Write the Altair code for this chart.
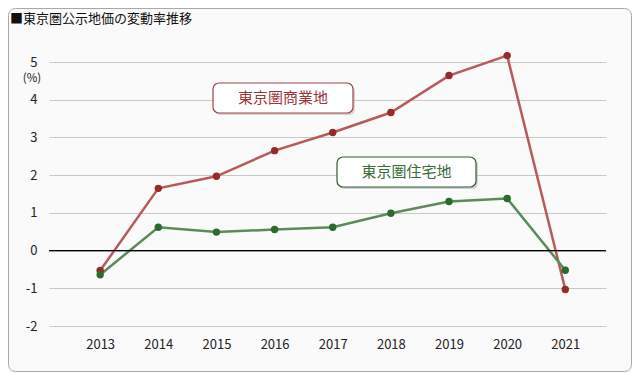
import altair as alt
import pandas as pd

years = [2013, 2014, 2015, 2016, 2017, 2018, 2019, 2020, 2021]
commercial = [-0.53, 1.65, 1.97, 2.65, 3.13, 3.66, 4.64, 5.17, -1.03]
residential = [-0.64, 0.62, 0.49, 0.56, 0.62, 0.99, 1.30, 1.38, -0.52]
series_names = ["東京圏商業地", "東京圏住宅地"]
y_ticks = [-2, -1, 0, 1, 2, 3, 4, 5]
title_text = "■東京圏公示地価の変動率推移"
unit_text = "(%)"

FONT = "Noto Sans CJK JP"
W, H = 557, 264
PAD = {"left": 41, "top": 54, "right": 26, "bottom": 46}

df = pd.DataFrame({
    "year": years * 2,
    "value": commercial + residential,
    "series": [series_names[0]] * len(years) + [series_names[1]] * len(years),
})

xscale = alt.Scale(domain=[2012.12, 2021.70], nice=False, zero=False)
yscale = alt.Scale(domain=[-2, 5], nice=False, zero=False)

base = alt.Chart(df)

x_axis = alt.Axis(values=years, labelExpr="datum.value", title=None, grid=False,
                  domain=False, ticks=False, labelPadding=12, labelOverlap=False,
                  labelFontSize=13, labelColor="#222", labelFont=FONT)
y_axis = alt.Axis(values=y_ticks, tickCount=8, labelExpr="datum.value", title=None, grid=True,
                  gridColor="#c8c8c8", domain=False, ticks=False, labelPadding=12,
                  labelOverlap=False, labelFontSize=13, labelColor="#222", labelFont=FONT)

def xe():
    return alt.X("year:Q", scale=xscale, axis=x_axis)

def ye():
    return alt.Y("value:Q", scale=yscale, axis=y_axis)

line_colors = ["#b85a5a", "#5a8c5a"]
point_colors = ["#952a2a", "#2d6a2d"]

one = pd.DataFrame({"k": [0]})

frame = alt.Chart(one).mark_rect(fillOpacity=0, stroke="#a8a8a8", strokeWidth=1, cornerRadius=7).encode(
    x=alt.value(-40.5), x2=alt.value(582.5), y=alt.value(-53.5), y2=alt.value(309.5))

zero = alt.Chart(pd.DataFrame({"v": [0]})).mark_rule(color="#000", strokeWidth=1.2).encode(
    y=alt.Y("v:Q", scale=yscale, axis=y_axis), x=alt.value(0), x2=alt.value(W))

series_layers = []
for i, name in enumerate(series_names):
    sub = base.transform_filter(alt.datum.series == name)
    series_layers.append(sub.mark_line(strokeWidth=2.5, color=line_colors[i]).encode(x=xe(), y=ye()))
for i, name in enumerate(series_names):
    sub = base.transform_filter(alt.datum.series == name)
    series_layers.append(sub.mark_circle(size=55, opacity=1, color=point_colors[i]).encode(
        x=xe(), y=ye()))

def label_box(cx, cy, w, h, text, stroke, tcolor):
    d = pd.DataFrame({"t": [text]})
    shadow = alt.Chart(d).mark_rect(fill="#bbbbbb", opacity=0.6, cornerRadius=6).encode(
        x=alt.value(cx - w / 2 + 2), x2=alt.value(cx + w / 2 + 2),
        y=alt.value(cy - h / 2 + 2), y2=alt.value(cy + h / 2 + 2))
    box = alt.Chart(d).mark_rect(fill="white", stroke=stroke, strokeWidth=1.2, cornerRadius=6).encode(
        x=alt.value(cx - w / 2), x2=alt.value(cx + w / 2),
        y=alt.value(cy - h / 2), y2=alt.value(cy + h / 2))
    txt = alt.Chart(d).mark_text(font=FONT, fontSize=15, color=tcolor, align="center",
                                 baseline="middle").encode(
        x=alt.value(cx), y=alt.value(cy), text="t:N")
    return [shadow, box, txt]

lab1 = label_box(234, 36, 140, 30, series_names[0], "#a04545", "#a03535")
lab2 = label_box(357.5, 110, 139, 30, series_names[1], "#2d5e2d", "#3a6a3a")

title = alt.Chart(pd.DataFrame({"t": [title_text]})).mark_text(
    font=FONT, fontSize=13, color="#111", align="left", baseline="middle").encode(
    x=alt.value(-39), y=alt.value(-43), text="t:N")
unit = alt.Chart(pd.DataFrame({"t": [unit_text]})).mark_text(
    font=FONT, fontSize=11.5, color="#222", align="center", baseline="middle").encode(
    x=alt.value(-17), y=alt.value(17), text="t:N")

chart = alt.layer(frame, *series_layers[:2], zero, *series_layers[2:], *lab1, *lab2, title, unit).properties(
    width=W, height=H, padding=PAD, background="#fafafa",
    autosize=alt.AutoSizeParams(type="none"),
).configure_view(stroke=None)

chart.save("out.html", embed_options={"renderer": "svg", "actions": False})
